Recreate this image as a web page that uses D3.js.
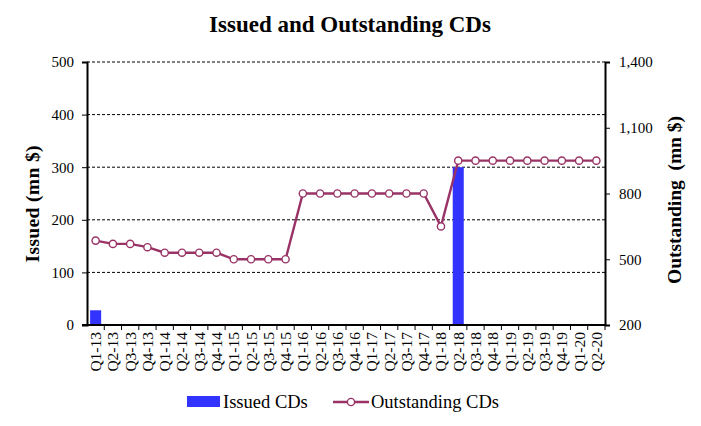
<!DOCTYPE html>
<html>
<head>
<meta charset="utf-8">
<script src="https://cdn.jsdelivr.net/npm/d3@7/dist/d3.min.js"></script>
<style>
  body { margin: 0; background: #fff; }
  svg text { font-family: "Liberation Serif", "Times New Roman", serif; fill: #000; }
</style>
</head>
<body>
<svg id="chart" width="701" height="426"></svg>
<script>
// Quarterly categories
const quarters = [
  "Q1-13","Q2-13","Q3-13","Q4-13",
  "Q1-14","Q2-14","Q3-14","Q4-14",
  "Q1-15","Q2-15","Q3-15","Q4-15",
  "Q1-16","Q2-16","Q3-16","Q4-16",
  "Q1-17","Q2-17","Q3-17","Q4-17",
  "Q1-18","Q2-18","Q3-18","Q4-18",
  "Q1-19","Q2-19","Q3-19","Q4-19",
  "Q1-20","Q2-20"
];
// Issued CDs (mn $), left axis
const issued = [
  28, 0, 0, 0,
  0, 0, 0, 0,
  0, 0, 0, 0,
  0, 0, 0, 0,
  0, 0, 0, 0,
  0, 300, 0, 0,
  0, 0, 0, 0,
  0, 0
];
// Outstanding CDs (mn $), right axis
const outstanding = [
  585, 570, 570, 555,
  530, 530, 530, 530,
  500, 500, 500, 500,
  800, 800, 800, 800,
  800, 800, 800, 800,
  650, 950, 950, 950,
  950, 950, 950, 950,
  950, 950
];
const leftTicks = [0, 100, 200, 300, 400, 500];
const rightTicks = [200, 500, 800, 1100, 1400];

const svg = d3.select("#chart");
const m = { left: 87, right: 605, top: 62, bottom: 325 };
const barColor = "#3333ff";
const lineColor = "#993366";

const x = d3.scaleBand().domain(quarters).range([m.left, m.right]).paddingInner(0).paddingOuter(0);
const yL = d3.scaleLinear().domain([0, 500]).range([m.bottom, m.top]);
const yR = d3.scaleLinear().domain([200, 1400]).range([m.bottom, m.top]);

// Title
svg.append("text")
  .attr("x", 350).attr("y", 32)
  .attr("text-anchor", "middle")
  .style("font-size", "23px").style("font-weight", "bold")
  .text("Issued and Outstanding CDs");

// Dashed gridlines from left axis
svg.append("g").selectAll("line")
  .data(leftTicks.filter(d => d > 0))
  .join("line")
  .attr("x1", m.left).attr("x2", m.right)
  .attr("y1", d => yL(d)).attr("y2", d => yL(d))
  .attr("stroke", "#000").attr("stroke-width", 1)
  .attr("stroke-dasharray", "3,2");

// Bars
const bw = x.bandwidth() * 0.64;
svg.append("g").selectAll("rect")
  .data(quarters.map((q, i) => ({ q, v: issued[i] })).filter(d => d.v > 0))
  .join("rect")
  .attr("x", d => x(d.q) + (x.bandwidth() - bw) / 2)
  .attr("width", bw)
  .attr("y", d => yL(d.v))
  .attr("height", d => yL(0) - yL(d.v))
  .attr("fill", barColor);

// Left axis
const axL = svg.append("g").attr("transform", `translate(${m.left},0)`)
  .call(d3.axisLeft(yL).tickValues(leftTicks).tickSize(5).tickPadding(8).tickFormat(d3.format("d")));
axL.select(".domain").attr("stroke-width", 2);
axL.selectAll("text").style("font-size", "15px").style("font-family", "Liberation Serif, serif");

// Right axis
const axR = svg.append("g").attr("transform", `translate(${m.right},0)`)
  .call(d3.axisRight(yR).tickValues(rightTicks).tickSize(5).tickPadding(9).tickFormat(d3.format(",")));
axR.select(".domain").attr("stroke-width", 2);
axR.selectAll("text").style("font-size", "15px").style("font-family", "Liberation Serif, serif");

// Bottom axis: ticks at category boundaries
const bottom = svg.append("g");
bottom.append("line")
  .attr("x1", m.left - 5).attr("x2", m.right)
  .attr("y1", m.bottom).attr("y2", m.bottom)
  .attr("stroke", "#000").attr("stroke-width", 2);
bottom.selectAll("line.tk")
  .data(quarters)
  .join("line").attr("class", "tk")
  .attr("x1", d => x(d) + x.bandwidth()).attr("x2", d => x(d) + x.bandwidth())
  .attr("y1", m.bottom).attr("y2", m.bottom + 5)
  .attr("stroke", "#000").attr("stroke-width", 1);
bottom.selectAll("text")
  .data(quarters)
  .join("text")
  .attr("transform", d => `translate(${x(d) + x.bandwidth() / 2 + 5.5},${m.bottom + 7}) rotate(-90)`)
  .attr("text-anchor", "end")
  .style("font-size", "15.5px")
  .text(d => d);

// Outstanding line
const line = d3.line()
  .x((d, i) => x(quarters[i]) + x.bandwidth() / 2)
  .y(d => yR(d));
svg.append("path")
  .datum(outstanding)
  .attr("d", line)
  .attr("fill", "none")
  .attr("stroke", lineColor)
  .attr("stroke-width", 2.4);
svg.append("g").selectAll("circle")
  .data(outstanding)
  .join("circle")
  .attr("cx", (d, i) => x(quarters[i]) + x.bandwidth() / 2)
  .attr("cy", d => yR(d))
  .attr("r", 3.6)
  .attr("fill", "#fff")
  .attr("stroke", lineColor)
  .attr("stroke-width", 1.4);

// Axis titles
svg.append("text")
  .attr("transform", `translate(39,204) rotate(-90)`)
  .attr("text-anchor", "middle")
  .attr("textLength", 117).attr("lengthAdjust", "spacing")
  .style("font-size", "19.5px").style("font-weight", "bold")
  .text("Issued (mn $)");
svg.append("text")
  .attr("transform", `translate(681,200) rotate(-90)`)
  .attr("text-anchor", "middle")
  .attr("textLength", 168).attr("lengthAdjust", "spacing")
  .style("font-size", "19.5px").style("font-weight", "bold")
  .style("white-space", "pre")
  .text("Outstanding  (mn $)");

// Legend
const lg = svg.append("g");
lg.append("rect").attr("x", 187).attr("y", 396).attr("width", 33).attr("height", 11).attr("fill", barColor);
lg.append("text").attr("x", 223).attr("y", 408).style("font-size", "18.5px").text("Issued CDs");
lg.append("line").attr("x1", 333).attr("x2", 369).attr("y1", 402).attr("y2", 402)
  .attr("stroke", lineColor).attr("stroke-width", 2.4);
lg.append("circle").attr("cx", 351).attr("cy", 402).attr("r", 3.6)
  .attr("fill", "#fff").attr("stroke", lineColor).attr("stroke-width", 1.4);
lg.append("text").attr("x", 371).attr("y", 408).style("font-size", "18.5px").text("Outstanding CDs");
</script>
</body>
</html>
